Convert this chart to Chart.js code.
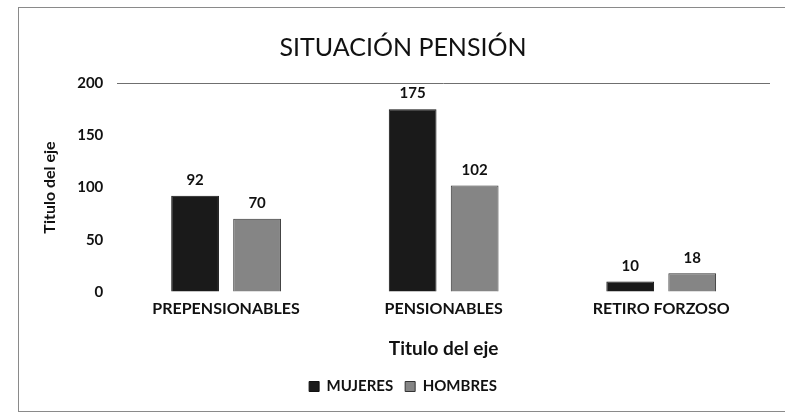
<!DOCTYPE html>
<html lang="es">
<head>
    <meta charset="UTF-8">
    <title>Situación pensión</title>
    <style>
        html, body { margin: 0; padding: 0; background: #fff; }
        #wrap { position: relative; width: 785px; height: 420px; }
        #frame { position: absolute; left: 18px; top: 7px; width: 770px; height: 403px;
                 border-left: 1px solid #8a8a8a; border-top: 1px solid #8a8a8a; border-bottom: 1px solid #8a8a8a; }
    </style>
</head>
<body>
<div id="wrap">
    <div id="frame"></div>
    <canvas id="pension_canvas" width="785" height="420"></canvas>
</div>
<!--suppress JSUnresolvedLibraryURL -->
<script src="https://cdn.jsdelivr.net/npm/chart.js@4.4.0/dist/chart.umd.min.js"></script>
<script>
    const categories = ['PREPENSIONABLES', 'PENSIONABLES', 'RETIRO FORZOSO'];
    const mujeres = [92, 175, 10];
    const hombres = [70, 102, 18];
    const yTicks = [0, 50, 100, 150, 200];

    const FONT = 'Lato, "Open Sans", sans-serif';

    // draws the value above each bar
    const valueLabels = {
        id: 'valueLabels',
        afterDatasetsDraw(chart) {
            const ctx = chart.ctx;
            ctx.save();
            ctx.font = 'bold 15px ' + FONT;
            ctx.fillStyle = '#111';
            ctx.textAlign = 'center';
            ctx.textBaseline = 'bottom';
            chart.data.datasets.forEach(function (ds, i) {
                chart.getDatasetMeta(i).data.forEach(function (bar, j) {
                    ctx.fillText(ds.data[j], bar.x, bar.y - 8);
                });
            });
            ctx.restore();
        }
    };

    const config = {
        type: 'bar',
        data: {
            labels: categories,
            datasets: [
                {
                    label: 'MUJERES',
                    data: mujeres,
                    backgroundColor: '#1a1a1a',
                    borderColor: '#111',
                    borderWidth: 1,
                    categoryPercentage: 0.57,
                    barPercentage: 0.77
                },
                {
                    label: 'HOMBRES',
                    data: hombres,
                    backgroundColor: '#858585',
                    borderColor: '#333',
                    borderWidth: 1,
                    categoryPercentage: 0.57,
                    barPercentage: 0.77
                }
            ]
        },
        options: {
            responsive: false,
            animation: false,
            layout: {
                padding: {left: 36, right: 15, top: 0, bottom: 16}
            },
            plugins: {
                title: {
                    display: true,
                    text: 'SITUACIÓN PENSIÓN',
                    color: '#111',
                    font: {family: FONT, size: 25, weight: 'normal'},
                    padding: {top: 33, bottom: 20}
                },
                legend: {
                    position: 'bottom',
                    labels: {
                        color: '#111',
                        font: {family: FONT, size: 15, weight: 'bold'},
                        boxWidth: 10,
                        boxHeight: 10,
                        padding: 12
                    }
                },
                tooltip: {enabled: false}
            },
            scales: {
                x: {
                    grid: {display: false, drawTicks: false},
                    border: {display: false},
                    ticks: {
                        color: '#111',
                        font: {family: FONT, size: 16, weight: 'bold'},
                        padding: 7
                    },
                    title: {
                        display: true,
                        text: 'Titulo del eje',
                        color: '#111',
                        font: {family: FONT, size: 19, weight: 'bold'},
                        padding: {top: 12, bottom: 7}
                    }
                },
                y: {
                    min: 0,
                    max: 200,
                    afterBuildTicks(axis) {
                        axis.ticks = yTicks.map(v => ({value: v}));
                    },
                    border: {display: false},
                    grid: {
                        color: ctx => ctx.tick && ctx.tick.value === 200 ? '#6f6f6f' : 'rgba(0,0,0,0)',
                        drawTicks: false
                    },
                    ticks: {
                        color: '#111',
                        font: {family: FONT, size: 15, weight: 'bold'},
                        padding: 14
                    },
                    title: {
                        display: true,
                        text: 'Titulo del eje',
                        color: '#111',
                        font: {family: FONT, size: 16, weight: 'bold'},
                        padding: {bottom: 4}
                    }
                }
            }
        },
        plugins: [valueLabels]
    };

    new Chart(document.getElementById('pension_canvas').getContext('2d'), config);
</script>
</body>
</html>
